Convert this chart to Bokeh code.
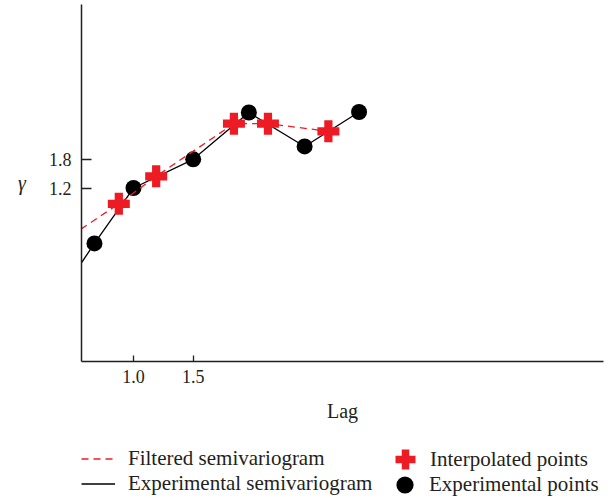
from bokeh.plotting import figure
from bokeh.layouts import column
from bokeh.models import Range1d, FixedTicker, Legend, LegendItem, PrintfTickFormatter
from bokeh.embed import file_html
from bokeh.resources import INLINE

# Experimental semivariogram (black circles) and its polyline
exp_lag = [0.673, 1.0, 1.5, 1.966, 2.433, 2.889]
exp_gamma = [0.04, 1.2, 1.8, 2.78, 2.07, 2.79]
exp_line_lag = [0.56, 0.673, 1.0, 1.5, 1.966, 2.433, 2.889]
exp_line_gamma = [-0.38, 0.04, 1.2, 1.8, 2.78, 2.07, 2.79]

# Interpolated points (red crosses) and filtered semivariogram (dashed)
interp_lag = [0.877, 1.19, 1.841, 2.126, 2.632]
interp_gamma = [0.87, 1.445, 2.547, 2.547, 2.386]
filt_lag = [0.56, 0.877, 1.19, 1.841, 2.126, 2.632]
filt_gamma = [0.34, 0.87, 1.445, 2.547, 2.547, 2.386]

x_ticks = [1.0, 1.5]
y_ticks = [1.2, 1.8]

RED = "#ed1c24"
INK = "#231f20"
FONT = "Liberation Serif"

# ---- main chart -------------------------------------------------------
p = figure(width=612, height=430, output_backend="svg", toolbar_location=None,
           x_range=Range1d(0.5645, 4.936), y_range=Range1d(-2.43, 5.04),
           min_border_left=81, min_border_right=9, min_border_top=4,
           min_border_bottom=69)
p.outline_line_color = None
p.xgrid.visible = False
p.ygrid.visible = False


def draw_series(fig):
    r_exp = fig.line(exp_line_lag, exp_line_gamma, line_color="black", line_width=1.3)
    r_pts = fig.scatter(exp_lag, exp_gamma, marker="circle", size=16,
                        fill_color="black", line_color=None)
    r_filt = fig.line(filt_lag, filt_gamma, line_color=RED, line_dash="7 5", line_width=1.3)
    r_int = fig.scatter(interp_lag, interp_gamma, marker="plus", size=22,
                        fill_color=RED, line_color=None)
    return r_exp, r_pts, r_filt, r_int


draw_series(p)

for ax in (p.xaxis[0], p.yaxis[0]):
    ax.axis_line_width = 1.5
    ax.axis_line_color = INK
    ax.major_tick_line_color = INK
    ax.major_tick_line_width = 1.3
    ax.major_tick_out = 0
    ax.minor_tick_line_color = None
    ax.major_label_text_font = FONT
    ax.major_label_text_font_size = "18px"
    ax.major_label_text_color = INK
    ax.axis_label_text_font = FONT
    ax.axis_label_text_font_size = "20px"
    ax.axis_label_text_color = INK
    ax.formatter = PrintfTickFormatter(format="%.1f")

p.xaxis.ticker = FixedTicker(ticks=x_ticks)
p.yaxis.ticker = FixedTicker(ticks=y_ticks)
p.xaxis.major_tick_in = 6
p.yaxis.major_tick_in = 10
p.xaxis.major_label_standoff = 8
p.yaxis.major_label_standoff = 10
p.xaxis.axis_label = "Lag"
p.xaxis.axis_label_text_font_style = "normal"
p.xaxis.axis_label_standoff = 14
p.yaxis.axis_label = "γ"
p.yaxis.axis_label_text_font_style = "italic"
p.yaxis.axis_label_orientation = "horizontal"
p.yaxis.axis_label_standoff = 20

# ---- legend strip (series drawn off-view, used only as legend glyphs) --
q = figure(width=612, height=68, output_backend="svg", toolbar_location=None,
           x_range=Range1d(100, 101), y_range=Range1d(100, 101),
           x_axis_location=None, y_axis_location=None,
           min_border_left=0, min_border_right=0, min_border_top=0, min_border_bottom=0)
q.outline_line_color = None
q.xgrid.visible = False
q.ygrid.visible = False
l_exp, l_pts, l_filt, l_int = draw_series(q)

common = dict(padding=0, margin=0, background_fill_alpha=0, border_line_alpha=0,
              label_text_font=FONT, label_text_font_size="21px", label_text_color=INK)

leg1 = Legend(items=[LegendItem(label="Filtered semivariogram", renderers=[l_filt]),
                     LegendItem(label="Experimental semivariogram", renderers=[l_exp])],
              location=(0, 2), glyph_width=34, glyph_height=25, label_height=25,
              spacing=0, label_standoff=13, **common)
leg2a = Legend(items=[LegendItem(label="Interpolated points", renderers=[l_int])],
               location=(299, 14), glyph_width=50, glyph_height=50, label_height=25,
               label_standoff=0, **common)
leg2b = Legend(items=[LegendItem(label="Experimental points", renderers=[l_pts])],
               location=(302, -8), glyph_width=43, glyph_height=43, label_height=25,
               label_standoff=3, **common)
q.add_layout(leg1)
q.add_layout(leg2a)
q.add_layout(leg2b)

layout = column(p, q, spacing=0)
open("out.html", "w").write(file_html(layout, INLINE))
